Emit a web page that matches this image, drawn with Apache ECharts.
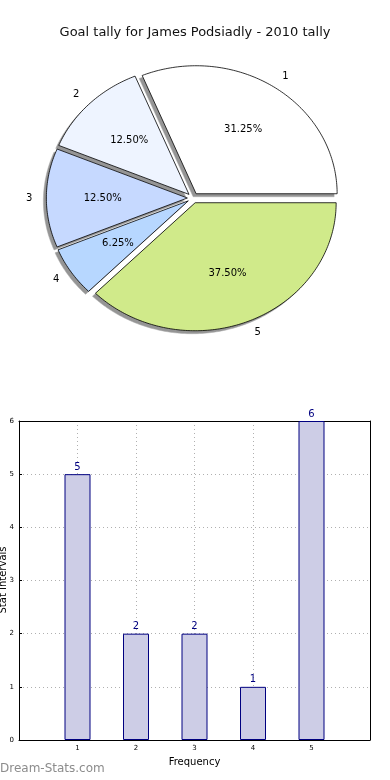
<!DOCTYPE html>
<html>
<head>
<meta charset="utf-8">
<script src="https://cdn.jsdelivr.net/npm/echarts@6/dist/echarts.min.js"></script>
<style>
html,body{margin:0;padding:0;background:#fff;}
#main{width:390px;height:780px;}
</style>
</head>
<body>
<div id="main"></div>
<script>
// ---- data ----
const chartTitle = 'Goal tally for James Podsiadly - 2010 tally';
const sliceNames = ['1', '2', '3', '4', '5'];
const sliceValues = [5, 2, 2, 1, 6];
const sliceColors = ['#ffffff', '#eef4ff', '#c6d9ff', '#b7d7ff', '#d0ea8a'];
const barX = [1, 2, 3, 4, 5];
const barValues = [5, 2, 2, 1, 6];
const xTickLabels = ['1', '2', '3', '4', '5'];
const yTickLabels = ['0', '1', '2', '3', '4', '5', '6'];
const xAxisName = 'Frequency';
const yAxisName = 'Stat Intervals';

// ---- layout (pixels) ----
const PIE = { cx: 193, cy: 198, rx: 141, ry: 128, explode: 0.04 };
const FONT = 'DejaVu Sans';

const total = sliceValues.reduce((a, b) => a + b, 0);
const cumStart = [];
sliceValues.reduce((acc, v, i) => { cumStart[i] = acc; return acc + v; }, 0);

function renderSlice(params, api) {
  const i = params.dataIndex;
  const val = api.value(0);
  const a0 = cumStart[i] / total * Math.PI * 2;
  const a1 = a0 + val / total * Math.PI * 2;
  const mid = (a0 + a1) / 2;
  const ox = PIE.cx + PIE.explode * PIE.rx * Math.cos(mid);
  const oy = PIE.cy - PIE.explode * PIE.ry * Math.sin(mid);
  const n = Math.max(10, Math.ceil((a1 - a0) * 180 / Math.PI));
  const pts = [[ox, oy]];
  for (let k = 0; k <= n; k++) {
    const a = a0 + (a1 - a0) * k / n;
    pts.push([ox + PIE.rx * Math.cos(a), oy - PIE.ry * Math.sin(a)]);
  }
  const spts = pts.map(p => [p[0] - 3, p[1] + 3]);
  const c = Math.cos(mid), s = Math.sin(mid);
  const lx = ox + 1.1 * PIE.rx * c;
  const ly = oy - 1.1 * PIE.ry * s;
  const px = ox + 0.6 * PIE.rx * c;
  const py = oy - 0.6 * PIE.ry * s;
  const pct = (val / total * 100).toFixed(2) + '%';
  return {
    type: 'group',
    children: [
      { type: 'polygon', z2: 1, shape: { points: spts },
        style: { fill: '#959595', stroke: '#aaaaaa', lineWidth: 0.5 } },
      { type: 'polygon', z2: 10, shape: { points: pts },
        style: { fill: sliceColors[i], stroke: '#000', lineWidth: 0.8 } },
      { type: 'text', z2: 20, x: lx, y: ly,
        style: { text: sliceNames[i], fill: '#000', font: '10px "' + FONT + '"',
          align: c > 0 ? 'left' : 'right', verticalAlign: 'middle' } },
      { type: 'text', z2: 20, x: px, y: py,
        style: { text: pct, fill: '#000', font: '10px "' + FONT + '"',
          align: 'center', verticalAlign: 'middle' } }
    ]
  };
}

const chart = echarts.init(document.getElementById('main'), null, { renderer: 'canvas' });

const dotted = { show: true, lineStyle: { color: '#b0b0b0', type: [1, 3], width: 1 } };

chart.setOption({
  animation: false,
  backgroundColor: '#fff',
  textStyle: { fontFamily: FONT },
  title: {
    text: chartTitle, left: 'center', top: 21,
    textStyle: { fontSize: 13, fontWeight: 'normal', color: '#111', fontFamily: FONT }
  },
  graphic: [{
    type: 'text', left: 0, top: 763,
    style: { text: 'Dream-Stats.com', fill: '#8c8c8c', font: '12px "' + FONT + '"' }
  }, {
    type: 'text', x: 8, y: 580, rotation: Math.PI / 2,
    style: { text: yAxisName, fill: '#000', font: '10px "' + FONT + '"',
      align: 'center', verticalAlign: 'bottom' }
  }],
  grid: [{ left: 19, right: 20, top: 421, bottom: 40, containLabel: false, outerBoundsMode: 'none' }],
  xAxis: [{
    type: 'value', min: 0, max: 6, interval: 1, gridIndex: 0,
    name: xAxisName, nameLocation: 'middle', nameGap: 17, nameMoveOverlap: false,
    nameTextStyle: { fontSize: 10, color: '#000' },
    axisLine: { show: true, onZero: false, lineStyle: { color: '#000', width: 1 } },
    axisTick: { show: true, inside: true, length: 3, lineStyle: { color: '#000' } },
    axisLabel: { fontSize: 7, color: '#000', margin: 5,
      formatter: v => (xTickLabels.indexOf(String(v)) >= 0 ? String(v) : '') },
    splitLine: dotted
  }, {
    type: 'value', min: 0, max: 6, interval: 1, gridIndex: 0, position: 'top',
    axisLine: { show: true, onZero: false, lineStyle: { color: '#000', width: 1 } },
    axisTick: { show: false }, axisLabel: { show: false }, splitLine: { show: false }
  }],
  yAxis: [{
    type: 'value', min: 0, max: 6, interval: 1, gridIndex: 0,
    axisLine: { show: true, onZero: false, lineStyle: { color: '#000', width: 1 } },
    axisTick: { show: true, inside: true, length: 3, lineStyle: { color: '#000' } },
    axisLabel: { fontSize: 7, color: '#000', margin: 5,
      formatter: v => (yTickLabels.indexOf(String(v)) >= 0 ? String(v) : '') },
    splitLine: dotted
  }, {
    type: 'value', min: 0, max: 6, interval: 1, gridIndex: 0, position: 'right',
    axisLine: { show: true, onZero: false, lineStyle: { color: '#000', width: 1 } },
    axisTick: { show: false }, axisLabel: { show: false }, splitLine: { show: false }
  }],
  series: [{
    type: 'custom',
    coordinateSystem: 'none',
    renderItem: renderSlice,
    data: sliceValues.map(v => [v]),
    silent: true
  }, {
    type: 'bar',
    xAxisIndex: 0, yAxisIndex: 0,
    barWidth: 26,
    data: barX.map((x, i) => [x, barValues[i]]),
    itemStyle: { color: '#cdcde6', borderColor: '#000080', borderWidth: 1 },
    label: { show: true, position: 'top', distance: 2, color: '#000080', fontSize: 10,
      formatter: p => String(p.value[1]) },
    z: 1
  }]
});
</script>
</body>
</html>
